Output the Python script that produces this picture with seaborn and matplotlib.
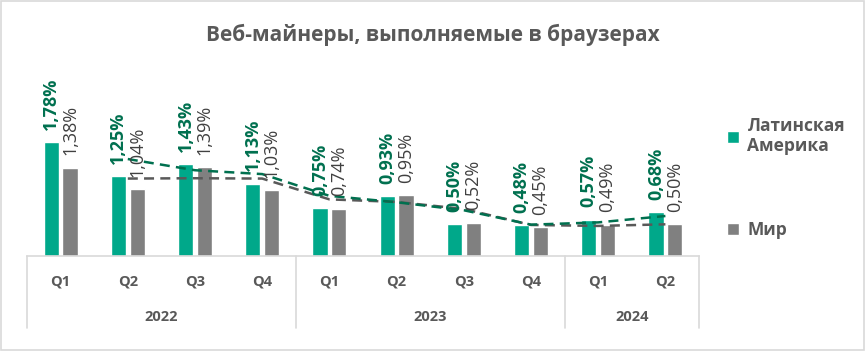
import pandas as pd
import matplotlib.pyplot as plt
import matplotlib.transforms as mtransforms
from matplotlib.patches import Patch, Rectangle
import seaborn as sns

# Данные
years = ['2022', '2022', '2022', '2022', '2023', '2023', '2023', '2023', '2024', '2024']
quarters = ['Q1', 'Q2', 'Q3', 'Q4', 'Q1', 'Q2', 'Q3', 'Q4', 'Q1', 'Q2']
latam = [1.78, 1.25, 1.43, 1.13, 0.75, 0.93, 0.50, 0.48, 0.57, 0.68]
world = [1.38, 1.04, 1.39, 1.03, 0.74, 0.95, 0.52, 0.45, 0.49, 0.50]
series = ['Латинская\nАмерика', 'Мир']
title = 'Веб-майнеры, выполняемые в браузерах'

teal = '#00A88A'
gray = '#808080'
teal_dark = '#00704F'
text_gray = '#595959'

periods = [f'{y} {q}' for y, q in zip(years, quarters)]
df = pd.DataFrame({
    'period': periods * 2,
    'value': latam + world,
    'series': [series[0]] * len(latam) + [series[1]] * len(world),
})

sns.set_theme(style='white')
plt.rcParams['font.family'] = ['Open Sans', 'DejaVu Sans']

fig = plt.figure(figsize=(8.66, 3.51), dpi=100)
ax = fig.add_axes([27 / 866, 95 / 351, 672 / 866, 196 / 351])

sns.barplot(data=df, x='period', y='value', hue='series', palette=[teal, gray],
            width=0.56, gap=0.2, saturation=1, legend=False, ax=ax)

# Подписи значений
label_styles = [dict(color=teal_dark, fontweight='bold'), dict(color='#404040')]
for cont, vals, st in zip(ax.containers, [latam, world], label_styles):
    for bar, v in zip(cont, vals):
        ax.annotate(f'{v:.2f}%'.replace('.', ','),
                    (bar.get_x() + bar.get_width() / 2, bar.get_height()),
                    xytext=(0, 9), textcoords='offset points',
                    rotation=90, ha='center', va='bottom', fontsize=13, **st)

# Скользящее среднее (2 периода)
x = list(range(len(periods)))
ma_latam = pd.Series(latam).rolling(2).mean()
ma_world = pd.Series(world).rolling(2).mean()
ax.plot(x, ma_world, color=text_gray, lw=1.8, ls=(0, (4, 2.5)))
ax.plot(x, ma_latam, color=teal_dark, lw=1.8, ls=(0, (4, 2.5)))

ax.set_xlim(-0.5, len(periods) - 0.5)
ax.set_ylim(0, 196 / 64)
ax.set_xlabel('')
ax.set_ylabel('')
ax.set_yticks([])
ax.set_xticks([])
for s in ['top', 'left', 'right']:
    ax.spines[s].set_visible(False)
ax.spines['bottom'].set_color('#D9D9D9')
ax.spines['bottom'].set_linewidth(1.2)

# Двухуровневая ось
trans = mtransforms.blended_transform_factory(ax.transData, ax.transAxes)
y_bottom = -72 / 196
for xs in [-0.5, 3.5, 7.5, 9.5]:
    ax.plot([xs, xs], [0, y_bottom], transform=trans, color='#D9D9D9', lw=1.2, clip_on=False)
for i, q in enumerate(quarters):
    ax.text(i, -26 / 196, q, transform=trans, ha='center', va='center',
            fontsize=10.5, color=text_gray, fontweight='bold')
year_pos = {}
for i, y in enumerate(years):
    year_pos.setdefault(y, []).append(i)
for y, idx in year_pos.items():
    ax.text(sum(idx) / len(idx), -61 / 196, y, transform=trans, ha='center', va='center',
            fontsize=10.5, color=text_gray, fontweight='bold')

fig.text(0.5, 1 - 35 / 351, title, ha='center', va='center', fontsize=15,
         fontweight='bold', color=text_gray)

handles = [Patch(facecolor=teal), Patch(facecolor=gray)]
fig.legend(handles, series, loc='upper left', bbox_to_anchor=(711 / 866, 1 - 101 / 351),
           frameon=False, handlelength=0.7, handleheight=0.7, handletextpad=0.5,
           labelspacing=3.8, prop=dict(size=12.5, weight='bold'), labelcolor=text_gray)

fig.patches.append(Rectangle((0.001, 0.002), 0.997, 0.995, transform=fig.transFigure,
                             fill=False, edgecolor='#D9D9D9', lw=1.2))

fig.savefig('out.png', dpi=100)
